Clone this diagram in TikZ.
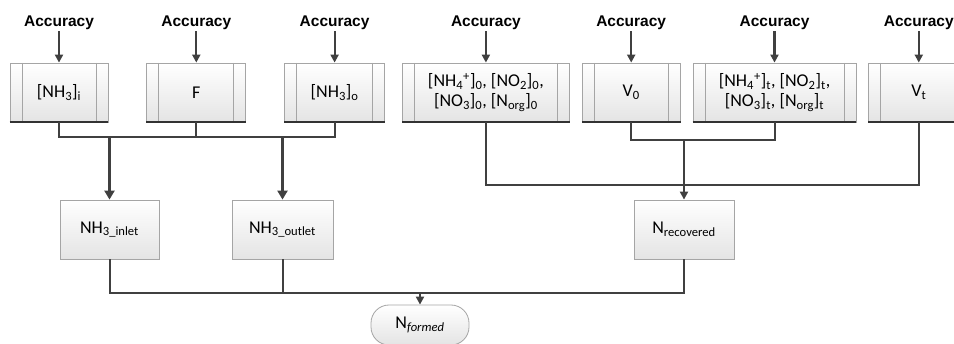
\documentclass[tikz,border=0pt]{standalone}
\usepackage{fontspec}
\setmainfont{Carlito}
\newfontfamily\accfont{Liberation Sans}
\usepackage{xcolor}
\usepackage{tikz}
\usetikzlibrary{arrows.meta,positioning}
\definecolor{ink}{RGB}{64,64,64}
\definecolor{boxline}{RGB}{165,165,165}
\definecolor{boxfill}{RGB}{228,228,228}
\definecolor{baseline}{RGB}{50,50,50}
\tikzset{
  flow/.style={-{Triangle[length=8pt,width=8pt]},line width=2.2pt,draw=ink},
  bigflow/.style={-{Triangle[length=9pt,width=10pt]},line width=2.8pt,draw=ink},
  wire/.style={line width=2pt,draw=ink},
  acc/.style={font=\accfont\bfseries\fontsize{15.5}{18}\selectfont,inner sep=1pt},
  proc/.style={draw=boxline,line width=0.8pt,top color=white,bottom color=boxfill,minimum height=59pt,inner sep=2pt,align=center,font=\fontsize{18}{20}\selectfont,
    path picture={\draw[boxline,line width=0.8pt] ([xshift=12pt]path picture bounding box.north west) -- ([xshift=12pt]path picture bounding box.south west) ([xshift=-12pt]path picture bounding box.north east) -- ([xshift=-12pt]path picture bounding box.south east);},
    append after command={(\tikzlastnode.south west) edge[draw=baseline,line width=2pt] (\tikzlastnode.south east)}},
  res/.style={draw=boxline,line width=0.8pt,top color=white,bottom color=boxfill,minimum height=59pt,inner sep=2pt,align=center,font=\fontsize{18}{20}\selectfont},
  term/.style={draw=boxline,line width=0.8pt,top color=white,bottom color=boxfill,rounded corners=18pt,minimum width=98pt,minimum height=40pt,font=\fontsize{18}{20}\selectfont}
}
\begin{document}
\begin{tikzpicture}[x=1pt,y=-1pt]
  \clip (0,0) rectangle (954,344);
  % input quantities
  \node[proc,minimum width=98pt] (nhi) at (59,92.5) {[NH\textsubscript{3}]\textsubscript{i}};
  \node[proc,right=38pt of nhi,minimum width=99pt] (fr) {F};
  \node[proc,right=38pt of fr,minimum width=100pt] (nho) {[NH\textsubscript{3}]\textsubscript{o}};
  \node[proc,right=17pt of nho,minimum width=167pt] (cz) {[NH\textsubscript{4}\textsuperscript{+}]\textsubscript{0}, [NO\textsubscript{2}]\textsubscript{0},\\{}[NO\textsubscript{3}]\textsubscript{0}, [N\textsubscript{org}]\textsubscript{0}};
  \node[proc,right=12pt of cz,minimum width=98pt] (vz) {V\textsubscript{0}};
  \node[proc,right=12pt of vz,minimum width=163pt] (ct) {[NH\textsubscript{4}\textsuperscript{+}]\textsubscript{t}, [NO\textsubscript{2}]\textsubscript{t},\\{}[NO\textsubscript{3}]\textsubscript{t}, [N\textsubscript{org}]\textsubscript{t}};
  \node[proc,right=12pt of ct,minimum width=100pt] (vt) {V\textsubscript{t}};
  % accuracy of each input
  \node[acc] (anhi) at (nhi.north |- 0,23) {Accuracy}; \node[acc] (afr) at (fr.north |- 0,23) {Accuracy};
  \node[acc] (anho) at (nho.north |- 0,23) {Accuracy}; \node[acc] (acz) at (cz.north |- 0,23) {Accuracy};
  \node[acc] (avz) at (vz.north |- 0,23) {Accuracy}; \node[acc] (act) at (ct.north |- 0,23) {Accuracy};
  \node[acc] (avt) at (vt.north |- 0,23) {Accuracy};
  \draw[flow] (anhi) -- (nhi); \draw[flow] (afr) -- (fr); \draw[flow] (anho) -- (nho); \draw[flow] (acz) -- (cz);
  \draw[flow] (avz) -- (vz); \draw[flow] (act) -- (ct); \draw[flow] (avt) -- (vt);
  % derived quantities
  \node[res,minimum width=99pt] (nin) at (109.5,229.5) {NH\textsubscript{3\_inlet}};
  \node[res,minimum width=101pt] (nout) at (282.5,229.5) {NH\textsubscript{3\_outlet}};
  \node[res,minimum width=100pt] (nrec) at (684,229.5) {N\textsubscript{recovered}};
  \node[term] (nform) at (420,325) {N\textsubscript{\itshape formed}};
  \coordinate (busL) at (0,137); \coordinate (busR) at (0,140); \coordinate (busO) at (0,185); \coordinate (busB) at (0,293);
  \draw[wire] (nhi.south) -- (nhi.south |- busL) -| (nho.south); \draw[wire] (fr.south) -- (fr.south |- busL);
  \draw[bigflow] (nin.north |- busL) -- (nin.north); \draw[bigflow] (nout.north |- busL) -- (nout.north);
  \draw[wire] (vz.south) -- (vz.south |- busR) -| (ct.south);
  \draw[wire] (cz.south) -- (cz.south |- busO) -| (vt.south);
  \draw[flow] (nrec.north |- busR) -- (nrec.north);
  \draw[wire] (nin.south) -- (nin.south |- busB) -| (nrec.south); \draw[wire] (nout.south) -- (nout.south |- busB);
  \draw[flow] (nform.north |- busB) -- (nform.north);
\end{tikzpicture}
\end{document}
